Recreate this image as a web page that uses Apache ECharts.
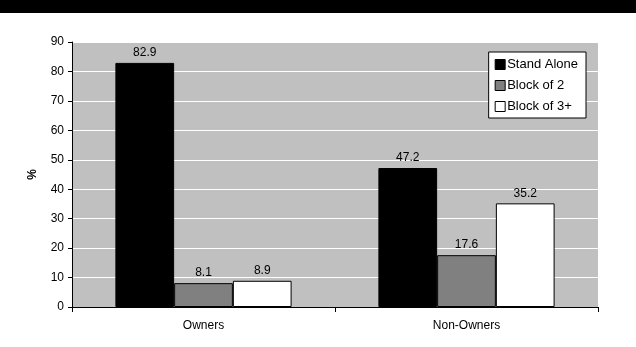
<!DOCTYPE html>
<html>
<head>
    <meta charset="utf-8">
    <title>Stand alone vs blocks</title>
    <script src="https://cdn.jsdelivr.net/npm/echarts@6/dist/echarts.min.js"></script>
    <style>
        html, body { margin: 0; padding: 0; background: #fff; }
        #main { width: 636px; height: 347px; }
    </style>
</head>
<body>
    <div id="main"></div>
    <script>
        // data
        const categories = ['Owners', 'Non-Owners'];
        const standAlone = [82.9, 47.2];
        const blockOf2 = [8.1, 17.6];
        const blockOf3 = [8.9, 35.2];

        var myChart = echarts.init(document.getElementById('main'));
        const font = 'Liberation Sans, Arial, sans-serif';

        function barSeries(name, data, color) {
            return {
                name: name,
                type: 'bar',
                data: data,
                barGap: 0,
                barCategoryGap: '33%',
                itemStyle: { color: color, borderColor: '#000', borderWidth: 1 },
                label: {
                    show: true,
                    position: 'top',
                    distance: 4,
                    color: '#000',
                    fontFamily: font,
                    fontSize: 12,
                    formatter: p => p.value.toFixed(1)
                }
            };
        }

        const option = {
            animation: false,
            backgroundColor: '#fff',
            graphic: [{
                type: 'rect',
                left: 0, top: 0,
                shape: { width: 636, height: 13 },
                style: { fill: '#000' }
            }],
            grid: { left: 72, right: 38, top: 42, bottom: 40, show: true, backgroundColor: '#c0c0c0', borderWidth: 0 },
            legend: {
                right: 50, top: 52,
                orient: 'vertical',
                backgroundColor: '#fff',
                borderColor: '#000',
                borderWidth: 1,
                padding: [6, 8, 5, 6],
                itemGap: 8,
                itemWidth: 10, itemHeight: 10,
                icon: 'rect',
                itemStyle: { borderColor: '#000', borderWidth: 1 },
                textStyle: { fontFamily: font, fontSize: 13, color: '#000', padding: [0, 0, 0, -3] },
                data: ['Stand Alone', 'Block of 2', 'Block of 3+']
            },
            xAxis: {
                type: 'category',
                data: categories,
                axisLine: { lineStyle: { color: '#000' } },
                axisTick: { show: true, length: 5, lineStyle: { color: '#000' } },
                axisLabel: { color: '#000', fontFamily: font, fontSize: 12, margin: 13 }
            },
            yAxis: {
                type: 'value',
                min: 0, max: 90, interval: 10,
                name: '%',
                nameLocation: 'middle',
                nameGap: 33,
                nameRotate: 90,
                nameTextStyle: { color: '#000', fontFamily: font, fontSize: 12, fontWeight: 'bold' },
                axisLine: { show: true, lineStyle: { color: '#000' } },
                axisTick: { show: true, length: 4, lineStyle: { color: '#000' } },
                axisLabel: { color: '#000', fontFamily: font, fontSize: 12, margin: 8 },
                splitLine: { lineStyle: { color: '#fff', width: 1 } }
            },
            series: [
                barSeries('Stand Alone', standAlone, '#000'),
                barSeries('Block of 2', blockOf2, '#808080'),
                barSeries('Block of 3+', blockOf3, '#fff')
            ]
        };

        myChart.setOption(option);
    </script>
</body>
</html>
